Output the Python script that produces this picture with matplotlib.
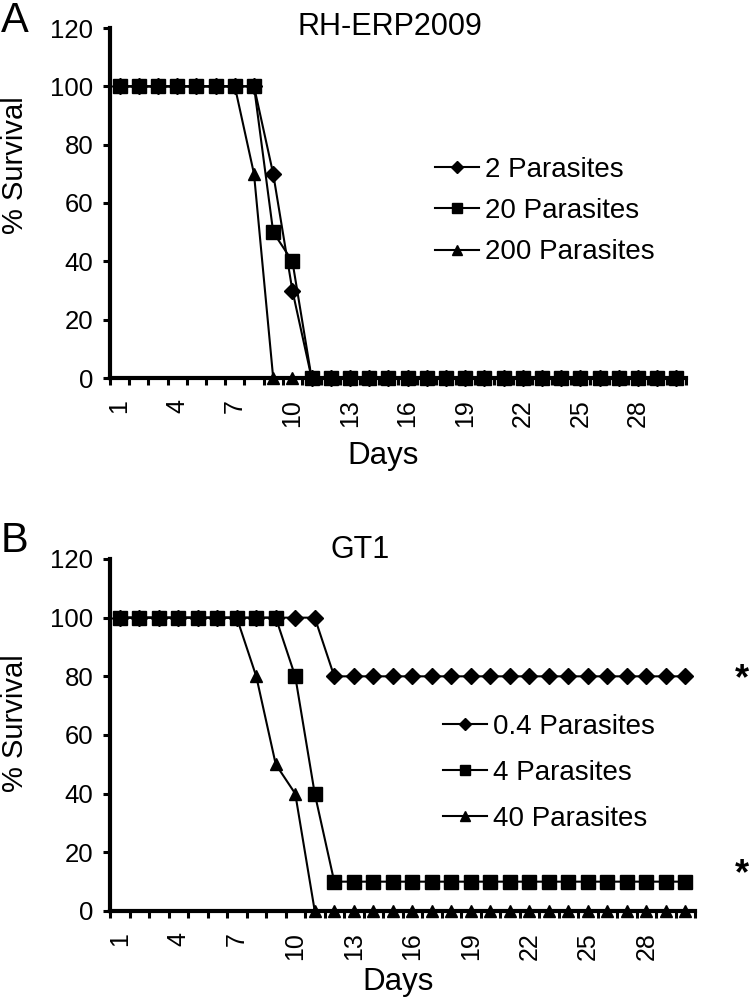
import matplotlib
matplotlib.use("Agg")
import matplotlib.pyplot as plt
import numpy as np

plt.rcParams['font.family'] = ['Liberation Sans', 'DejaVu Sans']

days = list(range(1, 31))
day_ticks = [1, 4, 7, 10, 13, 16, 19, 22, 25, 28]

# panel A: RH-ERP2009
rh_labels = ['2 Parasites', '20 Parasites', '200 Parasites']
rh_2 = [100] * 8 + [70, 30] + [0] * 20
rh_20 = [100] * 8 + [50, 40] + [0] * 20
rh_200 = [100] * 7 + [70] + [0] * 22

# panel B: GT1
gt_labels = ['0.4 Parasites', '4 Parasites', '40 Parasites']
gt_04 = [100] * 11 + [80] * 19
gt_4 = [100] * 9 + [80, 40] + [10] * 19
gt_40 = [100] * 7 + [80, 50, 40] + [0] * 20

W, H = 750, 1002
fig = plt.figure(figsize=(7.5, 10.02), dpi=100)


def px(x, y):
    return x / W, 1 - y / H


def panel(rect, series, labels, leg_xy, spacing):
    ax = fig.add_axes(rect)
    styles = [('D', 8, 3), ('s', 9.5, 5), ('^', 9, 4)]
    for vals, lab, (m, ms, z) in zip(series, labels, styles):
        ax.plot(days, vals, color='black', lw=1.5, marker=m, ms=ms,
                mec='black', mfc='black', label=lab, zorder=z, clip_on=False)
    ax.set_xlim(0.5, 30.5)
    ax.set_ylim(0, 120)
    ax.set_yticks(np.arange(0, 121, 20))
    ax.set_xticks(day_ticks)
    ax.set_xticklabels([str(d) for d in day_ticks], rotation=90)
    ax.set_xticks(np.arange(0.5, 31, 1), minor=True)
    ax.tick_params(axis='x', which='major', length=0, pad=15, labelsize=18)
    ax.tick_params(axis='x', which='minor', length=5, width=2.2, direction='out')
    ax.tick_params(axis='y', length=5, width=2.2, direction='out', pad=7, labelsize=18.5)
    for s in ['top', 'right']:
        ax.spines[s].set_visible(False)
    for s in ['left', 'bottom']:
        ax.spines[s].set_linewidth(3)
    ax.legend(loc='center left', bbox_to_anchor=leg_xy, bbox_transform=fig.transFigure,
              frameon=False, fontsize=20, handlelength=1.6, handletextpad=0.2,
              labelspacing=spacing, borderpad=0, borderaxespad=0, markerscale=0.8)
    return ax


panel([110 / W, 1 - 378 / H, 576 / W, 350 / H], [rh_2, rh_20, rh_200], rh_labels, px(435, 211), 0.55)
panel([110 / W, 1 - 911 / H, 585 / W, 352 / H], [gt_04, gt_4, gt_40], gt_labels, px(443, 773), 0.72)

fig.text(*px(390, 27), 'RH-ERP2009', ha='center', va='center', fontsize=22)
fig.text(*px(360, 550), 'GT1', ha='center', va='center', fontsize=22)
fig.text(*px(15, 21), 'A', ha='center', va='center', fontsize=30)
fig.text(*px(14, 541), 'B', ha='center', va='center', fontsize=30)
fig.text(*px(15, 165), '% Survival', ha='center', va='center', rotation=90, fontsize=21)
fig.text(*px(15, 723), '% Survival', ha='center', va='center', rotation=90, fontsize=21)
fig.text(*px(383, 456), 'Days', ha='center', va='center', fontsize=22.5)
fig.text(*px(398, 982), 'Days', ha='center', va='center', fontsize=22.5)
fig.text(*px(742, 680), '*', ha='center', va='center', fontsize=26, fontweight='bold')
fig.text(*px(742, 875), '*', ha='center', va='center', fontsize=26, fontweight='bold')

fig.savefig('out.png', dpi=100)
